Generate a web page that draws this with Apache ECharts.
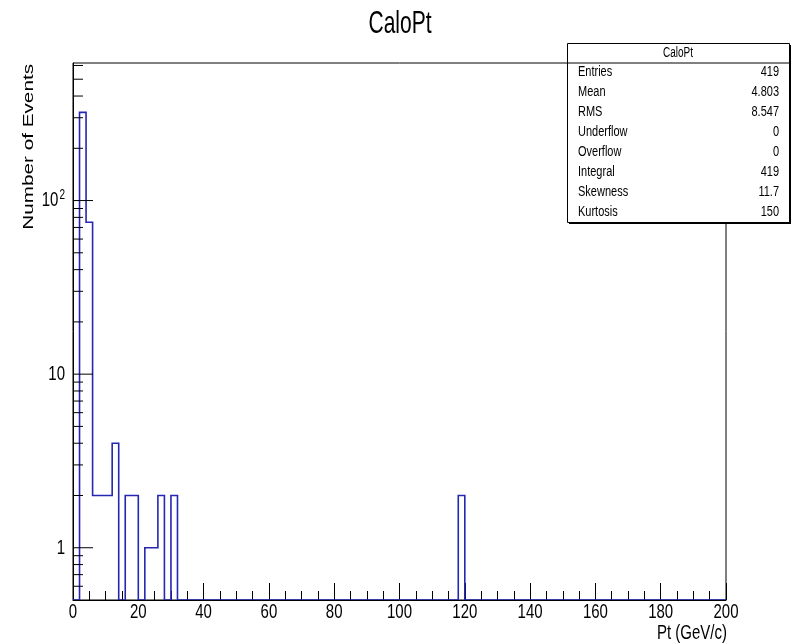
<!DOCTYPE html>
<html><head><meta charset="utf-8">
<script src="https://cdn.jsdelivr.net/npm/echarts@6/dist/echarts.min.js"></script>
<style>html,body{margin:0;padding:0;background:#fff}#c{width:793px;height:644px}</style>
</head><body><div id="c"></div>
<script>
// ---- data ----
const binWidth = 2;
const xMin = 0, xMax = 200;
const binStarts = [2, 4, 6, 8, 10, 12, 16, 18, 22, 24, 26, 30, 118];
const binCounts = [322, 75, 2, 2, 2, 4, 2, 2, 1, 1, 2, 2, 2];
const xTickValues = [0, 20, 40, 60, 80, 100, 120, 140, 160, 180, 200];
const xTickLabels = ['0', '20', '40', '60', '80', '100', '120', '140', '160', '180', '200'];
const yLabelValues = [1, 10, 100];
const yLabelBase = ['1', '10', '10'];
const yLabelExp = ['', '', '2'];
const yMajorTicks = [1, 10, 100];
const yMinorTicks = [0.6, 0.7, 0.8, 0.9, 2, 3, 4, 5, 6, 7, 8, 9, 20, 30, 40, 50, 60, 70, 80, 90, 200, 300, 400, 500, 600];
const statsNames = ['Entries', 'Mean', 'RMS', 'Underflow', 'Overflow', 'Integral', 'Skewness', 'Kurtosis'];
const statsValues = ['419', '4.803', '8.547', '0', '0', '419', '11.7', '150'];
const histTitle = 'CaloPt';
const xTitle = 'Pt (GeV/c)';
const yTitle = 'Number of Events';

// ---- chart ----
const chart = echarts.init(document.getElementById('c'), null, {renderer: 'canvas'});
const FONT = '"Liberation Sans", Arial, Helvetica, sans-serif';
const LINE = '#2626b2';
const SY = 1.4; // vertical stretch of the text in the reference

const countMap = {};
binStarts.forEach((s, i) => { countMap[s] = binCounts[i]; });

function histRender(params, api) {
  const cs = params.coordSys;
  const bottom = cs.y + cs.height;
  const pts = [];
  for (let lo = xMin; lo < xMax; lo += binWidth) {
    const c = countMap[lo] || 0;
    const x0 = api.coord([lo, 1])[0];
    const x1 = api.coord([lo + binWidth, 1])[0];
    const y = c > 0 ? api.coord([lo, c])[1] : bottom;
    pts.push([x0, y], [x1, y]);
  }
  return {type: 'polyline', shape: {points: pts}, style: {stroke: LINE, lineWidth: 1.6, fill: null}};
}

function tickRender(len) {
  return function (params, api) {
    const cs = params.coordSys;
    const y = api.coord([xMin, api.value(0)])[1];
    return {type: 'line', shape: {x1: cs.x, y1: y, x2: cs.x + len, y2: y}, style: {stroke: '#000', lineWidth: 1}};
  };
}

function xLabelRender(params, api) {
  const cs = params.coordSys;
  const i = params.dataIndex;
  const x = api.coord([api.value(0), 1])[0];
  return {type: 'text', x: x, y: cs.y + cs.height + 12, scaleY: SY,
    style: {text: xTickLabels[i], x: 0, y: 0, font: '15px ' + FONT, fill: '#000', align: 'center', verticalAlign: 'middle'}};
}

function yLabelRender(params, api) {
  const cs = params.coordSys;
  const i = params.dataIndex;
  const y = api.coord([xMin, api.value(0)])[1];
  const txt = yLabelExp[i] ? '{b|' + yLabelBase[i] + '}{s|' + yLabelExp[i] + '}' : '{b|' + yLabelBase[i] + '}';
  return {type: 'text', x: cs.x - 8, y: y, scaleY: SY,
    style: {text: txt, x: 0, y: 0, align: 'right', verticalAlign: 'middle',
      rich: {
        b: {font: '15px ' + FONT, fill: '#000', color: '#000'},
        s: {font: '10px ' + FONT, fill: '#000', color: '#000', padding: [0, 0, 8, 1]}
      }}};
}

const statsTop = 43, statsLeft = 567, statsW = 222, statsH = 179, rowH = 19.9;
const statsGraphics = [
  {type: 'rect', left: statsLeft + 2, top: statsTop + 2, shape: {width: statsW, height: statsH}, style: {fill: '#000'}, z: 100},
  {type: 'rect', left: statsLeft, top: statsTop, shape: {width: statsW, height: statsH}, style: {fill: '#fff', stroke: '#000', lineWidth: 1}, z: 101},
  {type: 'line', shape: {x1: statsLeft, y1: statsTop + 20, x2: statsLeft + statsW, y2: statsTop + 20}, style: {stroke: '#000', lineWidth: 1}, z: 102},
  {type: 'text', x: statsLeft + statsW / 2, y: statsTop + 10, scaleY: SY, style: {text: histTitle, font: '10px ' + FONT, fill: '#000', align: 'center', verticalAlign: 'middle'}, z: 102}
];
statsNames.forEach((n, i) => {
  const y = statsTop + 29 + i * rowH;
  statsGraphics.push({type: 'text', x: statsLeft + 11, y: y, scaleY: SY, style: {text: n, font: '11px ' + FONT, fill: '#000', align: 'left', verticalAlign: 'middle'}, z: 102});
  statsGraphics.push({type: 'text', x: statsLeft + statsW - 10, y: y, scaleY: SY, style: {text: statsValues[i], font: '11px ' + FONT, fill: '#000', align: 'right', verticalAlign: 'middle'}, z: 102});
});

chart.setOption({
  animation: false,
  backgroundColor: '#fff',
  grid: {left: 73, right: 67, top: 63, bottom: 44, show: true, borderColor: '#000', borderWidth: 1, backgroundColor: 'transparent'},
  xAxis: {
    type: 'value', min: xMin, max: xMax, interval: 20,
    axisLine: {show: true, lineStyle: {color: '#000', width: 1}},
    axisTick: {show: true, inside: true, length: 17, lineStyle: {color: '#000'}},
    minorTick: {show: true, splitNumber: 4, length: 9, lineStyle: {color: '#000'}},
    splitLine: {show: false},
    axisLabel: {show: false}
  },
  yAxis: {
    type: 'log', min: 0.5, max: 620, logBase: 10,
    axisLine: {show: true, lineStyle: {color: '#000', width: 1}},
    axisTick: {show: false},
    splitLine: {show: false},
    axisLabel: {show: false}
  },
  series: [
    {type: 'custom', renderItem: histRender, data: [[0, 1]], clip: true, z: 3, silent: true},
    {type: 'custom', renderItem: tickRender(20), data: yMajorTicks.map(v => [v]), encode: {y: 0}, z: 4, silent: true},
    {type: 'custom', renderItem: tickRender(10), data: yMinorTicks.map(v => [v]), encode: {y: 0}, z: 4, silent: true},
    {type: 'custom', renderItem: xLabelRender, data: xTickValues.map(v => [v]), encode: {x: 0}, z: 4, silent: true},
    {type: 'custom', renderItem: yLabelRender, data: yLabelValues.map(v => [v]), encode: {y: 0}, z: 4, silent: true}
  ],
  graphic: [
    {type: 'text', x: 400, y: 24, scaleY: 1.5, style: {text: histTitle, font: '21px ' + FONT, fill: '#000', align: 'center', verticalAlign: 'middle'}},
    {type: 'text', x: 727, y: 633, scaleY: SY, style: {text: xTitle, font: '15px ' + FONT, fill: '#000', align: 'right', verticalAlign: 'middle'}},
    {type: 'text', x: 29, y: 64, rotation: Math.PI / 2, scaleX: 1.38, style: {text: yTitle, font: '15px ' + FONT, fill: '#000', align: 'right', verticalAlign: 'middle'}}
  ].concat(statsGraphics)
});
</script>
</body></html>
